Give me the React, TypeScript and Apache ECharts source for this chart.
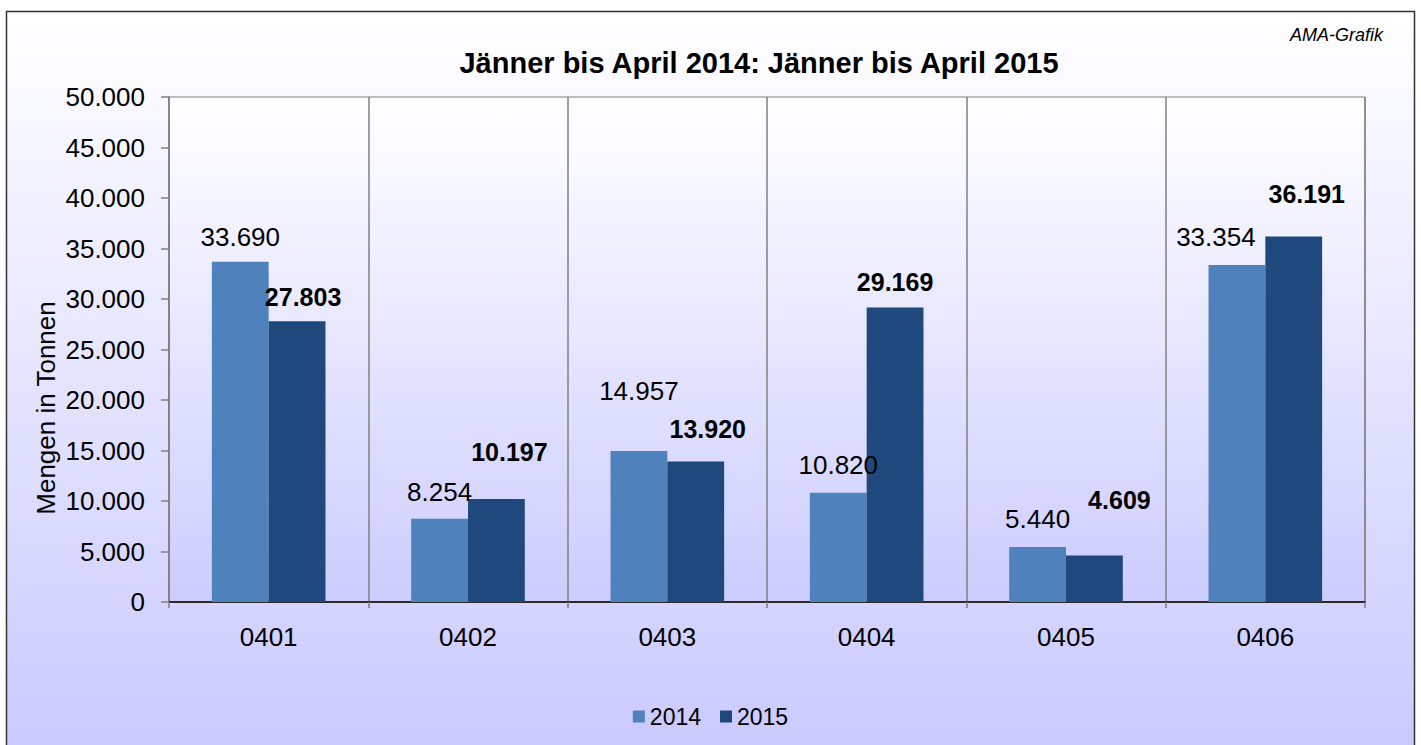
import React, { useEffect, useRef } from "react";
import * as echarts from "echarts";

const categories = ["0401", "0402", "0403", "0404", "0405", "0406"];
const values2014 = [33690, 8254, 14957, 10820, 5440, 33354];
const values2015 = [27803, 10197, 13920, 29169, 4609, 36191];
const yTicks = [0, 5000, 10000, 15000, 20000, 25000, 30000, 35000, 40000, 45000, 50000];

// label nudges (style only)
const off2014 = [[0, 1], [0, -1], [0, -34], [0, -2], [0, -2], [-21, -2]];
const off2015 = [[6, 1], [13, -22], [12, -7], [0, 0], [25, -30], [13, -17]];

const fmt = (v: number) => {
  const s = String(Math.round(v));
  return s.replace(/\B(?=(\d{3})+(?!\d))/g, ".");
};

const FONT = "'Liberation Sans', Arial, sans-serif";

export default function App() {
  const ref = useRef<HTMLDivElement>(null);
  useEffect(() => {
    if (!ref.current) return;
    const chart = echarts.init(ref.current, undefined, { renderer: "svg" });
    const mkData = (vals: number[], offs: number[][]) =>
      vals.map((v, i) => ({ value: v, label: { offset: offs[i] } }));
    chart.setOption({
      animation: false,
      backgroundColor: "#ffffff",
      textStyle: { fontFamily: FONT },
      graphic: [
        {
          type: "rect",
          z: -10,
          shape: { x: 6.5, y: 11.5, width: 1408, height: 760 },
          style: {
            fill: new echarts.graphic.LinearGradient(0, 0, 0, 1, [
              { offset: 0, color: "#ffffff" },
              { offset: 1, color: "#c8c8ff" },
            ]),
            stroke: "#333333",
            lineWidth: 1.5,
          },
        },
        {
          type: "text",
          x: 759,
          y: 63,
          style: {
            text: "Jänner bis April 2014: Jänner bis April 2015",
            font: `bold 29px ${FONT}`,
            fill: "#000",
            textAlign: "center",
            textVerticalAlign: "middle",
          },
        },
        {
          type: "text",
          x: 1383,
          y: 35,
          style: {
            text: "AMA-Grafik",
            font: `italic 18px ${FONT}`,
            fill: "#000",
            textAlign: "right",
            textVerticalAlign: "middle",
          },
        },
        {
          type: "text",
          x: 46,
          y: 408,
          rotation: Math.PI / 2,
          style: {
            text: "Mengen in Tonnen",
            font: `26px ${FONT}`,
            fill: "#000",
            textAlign: "center",
            textVerticalAlign: "middle",
          },
        },
      ],
      legend: {
        top: 705,
        left: "center",
        padding: 0,
        itemWidth: 12,
        itemHeight: 12,
        itemGap: 19,
        icon: "rect",
        textStyle: { fontSize: 23, fontFamily: FONT, color: "#000" },
        data: ["2014", "2015"],
      },
      grid: {
        left: 169,
        right: 56,
        top: 97,
        bottom: 143,
        show: true,
        borderColor: "#808080",
        borderWidth: 1,
        backgroundColor: new echarts.graphic.LinearGradient(0, 0, 0, 1, [
          { offset: 0, color: "#ffffff" },
          { offset: 1, color: "#ccccff" },
        ]),
      },
      xAxis: {
        type: "category",
        data: categories,
        boundaryGap: true,
        axisLine: { lineStyle: { color: "#000", width: 1.5 } },
        axisTick: { show: true, length: 6, lineStyle: { color: "#808080", width: 1.5 } },
        splitLine: { show: true, lineStyle: { color: "#808080", width: 1.5 } },
        axisLabel: { fontSize: 26, color: "#000", margin: 22, fontFamily: FONT },
      },
      yAxis: {
        type: "value",
        min: yTicks[0],
        max: yTicks[yTicks.length - 1],
        interval: yTicks[1] - yTicks[0],
        axisLine: { show: true, lineStyle: { color: "#808080", width: 1.5 } },
        axisTick: { show: true, length: 8, lineStyle: { color: "#808080", width: 1.5 } },
        splitLine: { show: false },
        axisLabel: {
          fontSize: 26,
          color: "#000",
          margin: 24,
          fontFamily: FONT,
          formatter: (v: number) => fmt(v),
        },
      },
      series: [
        {
          name: "2014",
          type: "bar",
          data: mkData(values2014, off2014),
          itemStyle: { color: "#4f81bd" },
          barGap: "0%",
          barCategoryGap: "43%",
          label: {
            show: true,
            position: "top",
            distance: 13,
            fontSize: 26,
            color: "#000",
            fontFamily: FONT,
            formatter: (p: any) => fmt(p.value),
          },
        },
        {
          name: "2015",
          type: "bar",
          data: mkData(values2015, off2015),
          itemStyle: { color: "#1f497d" },
          barGap: "0%",
          barCategoryGap: "43%",
          label: {
            show: true,
            position: "top",
            distance: 13,
            fontSize: 25,
            fontWeight: "bold",
            color: "#000",
            fontFamily: FONT,
            formatter: (p: any) => fmt(p.value),
          },
        },
      ],
    });
    return () => chart.dispose();
  }, []);
  return (
    <div
      ref={ref}
      style={{ position: "fixed", left: 0, top: 0, width: 1421, height: 745 }}
    />
  );
}
